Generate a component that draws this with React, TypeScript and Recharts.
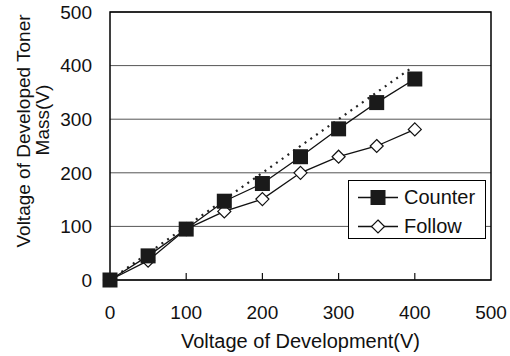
import React from "react";
import {
  LineChart,
  Line,
  XAxis,
  YAxis,
  CartesianGrid,
  Legend,
  ReferenceArea,
  Label,
} from "recharts";

// Development voltage (V) vs. voltage of developed toner mass (V)
const voltages = [0, 50, 100, 150, 200, 250, 300, 350, 400];
const counterMass = [0, 45, 95, 147, 180, 230, 282, 331, 375];
const followMass = [0, 36, 95, 128, 151, 200, 230, 250, 281];

// ideal 1:1 reference, drawn dotted
const idealVoltage = [0, 396];
const idealMass = [0, 396];

const axisTicks = [0, 100, 200, 300, 400, 500];

const FONT = '"Liberation Sans", Arial, sans-serif';
const INK = "#111";

const rows = voltages.map((v, i) => ({
  x: v,
  counter: counterMass[i],
  follow: followMass[i],
}));
const idealRows = idealVoltage.map((v, i) => ({ x: v, ideal: idealMass[i] }));

const SquareDot = (props: any) => {
  const { cx, cy, index } = props;
  if (cx == null || cy == null) return null;
  return (
    <rect key={`sq-${index}`} x={cx - 7.5} y={cy - 7.5} width={15} height={15} fill="#1a1a1a" />
  );
};

const DiamondDot = (props: any) => {
  const { cx, cy, index } = props;
  if (cx == null || cy == null) return null;
  const r = 6.5;
  return (
    <polygon
      key={`dm-${index}`}
      points={`${cx},${cy - r} ${cx + r},${cy} ${cx},${cy + r} ${cx - r},${cy}`}
      fill="#fff"
      stroke={INK}
      strokeWidth={1.2}
    />
  );
};

const XTick = (props: any) => {
  const { x, y, payload } = props;
  const inner = payload.value > 0 && payload.value < 500;
  return (
    <g>
      {inner && <line x1={x} x2={x} y1={y} y2={y - 7} stroke={INK} strokeWidth={1.2} />}
      <text
        x={x}
        y={y + 32}
        textAnchor="middle"
        dominantBaseline="central"
        fontFamily={FONT}
        fontSize={19}
        fill={INK}
      >
        {payload.value}
      </text>
    </g>
  );
};

const legendItems = [
  { name: "Counter", marker: "square" },
  { name: "Follow", marker: "diamond" },
];

const LegendBox = () => (
  <div
    style={{
      border: "1px solid #000",
      background: "#fff",
      width: 138,
      height: 59,
      paddingTop: 2,
      boxSizing: "border-box",
      fontFamily: FONT,
      fontSize: 20,
      color: INK,
    }}
  >
    {legendItems.map((item) => (
      <div key={item.name} style={{ display: "flex", alignItems: "center", height: 29 }}>
        <svg width={54} height={29} style={{ flex: "none" }}>
          <line x1={9} x2={49} y1={14.5} y2={14.5} stroke={INK} strokeWidth={1.3} />
          {item.marker === "square" ? (
            <rect x={21.5} y={7} width={15} height={15} fill="#1a1a1a" />
          ) : (
            <polygon points="29,8 35.5,14.5 29,21 22.5,14.5" fill="#fff" stroke={INK} strokeWidth={1.2} />
          )}
        </svg>
        <span style={{ marginLeft: 1, lineHeight: "29px" }}>{item.name}</span>
      </div>
    ))}
  </div>
);

export default function App() {
  return (
    <div style={{ position: "absolute", left: 0, top: 0, background: "#fff" }}>
      <LineChart
        width={510}
        height={356}
        data={rows}
        margin={{ top: 12, right: 19, bottom: 0, left: 0 }}
      >
        <CartesianGrid vertical={false} stroke="#555" strokeWidth={1} />
        <ReferenceArea
          x1={0}
          x2={500}
          y1={0}
          y2={500}
          fill="none"
          stroke="#000"
          strokeWidth={1.5}
          fillOpacity={0}
        />
        <XAxis
          type="number"
          dataKey="x"
          domain={[0, 500]}
          ticks={axisTicks}
          height={76}
          axisLine={false}
          tickLine={false}
          tickSize={0}
          tickMargin={0}
          tick={<XTick />}
          interval={0}
        >
          <Label
            content={(p: any) => {
              const vb = p.viewBox;
              return (
                <text
                  x={vb.x + vb.width / 2}
                  y={348}
                  textAnchor="middle"
                  fontFamily={FONT}
                  fontSize={20}
                  fill={INK}
                >
                  Voltage of Development(V)
                </text>
              );
            }}
          />
        </XAxis>
        <YAxis
          type="number"
          domain={[0, 500]}
          ticks={axisTicks}
          width={110}
          axisLine={false}
          tickLine={false}
          tickSize={0}
          tickMargin={18}
          interval={0}
          tick={{ fontFamily: FONT, fontSize: 19, fill: INK }}
        >
          <Label
            content={() => (
              <g fontFamily={FONT} fontSize={19} fill={INK}>
                <text x={30} y={131} transform="rotate(-90 30 131)" textAnchor="middle">
                  Voltage of Developed Toner
                </text>
                <text x={49} y={120} transform="rotate(-90 49 120)" textAnchor="middle">
                  Mass(V)
                </text>
              </g>
            )}
          />
        </YAxis>
        <Line
          data={idealRows}
          dataKey="ideal"
          type="linear"
          stroke="#222"
          strokeWidth={2.2}
          strokeDasharray="2 5"
          dot={false}
          activeDot={false}
          legendType="none"
          isAnimationActive={false}
        />
        <Line
          dataKey="follow"
          name="Follow"
          type="linear"
          stroke={INK}
          strokeWidth={1.3}
          dot={<DiamondDot />}
          activeDot={false}
          isAnimationActive={false}
        />
        <Line
          dataKey="counter"
          name="Counter"
          type="linear"
          stroke={INK}
          strokeWidth={1.3}
          dot={<SquareDot />}
          activeDot={false}
          isAnimationActive={false}
        />
        <Legend
          layout="vertical"
          align="center"
          verticalAlign="middle"
          content={<LegendBox />}
          wrapperStyle={{ left: 348, top: 180, width: 138, height: 59 }}
        />
      </LineChart>
    </div>
  );
}
